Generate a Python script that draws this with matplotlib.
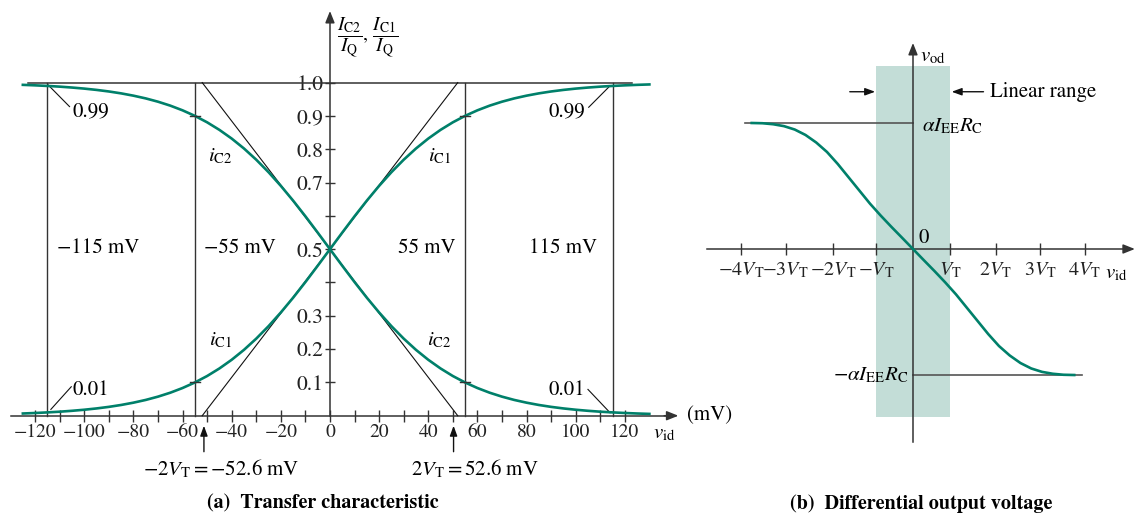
import numpy as np
import matplotlib
matplotlib.use("Agg")
import matplotlib.pyplot as plt
from matplotlib.ticker import FixedLocator, FixedFormatter

plt.rcParams['font.family'] = 'STIXGeneral'
plt.rcParams['mathtext.fontset'] = 'stix'

# ---------------- data ----------------
# (a) transfer characteristic: normalized collector currents vs v_id (mV)
v_id_mV = [-125, -120, -115, -110, -105, -100, -95, -90, -85, -80, -75, -70, -65, -60,
           -55, -50, -45, -40, -35, -30, -25, -20, -15, -10, -5, 0,
           5, 10, 15, 20, 25, 30, 35, 40, 45, 50, 55, 60, 65, 70, 75, 80,
           85, 90, 95, 100, 105, 110, 115, 120, 125, 130]
i_C1 = [0.0067, 0.0082, 0.0100, 0.0121, 0.0148, 0.0180, 0.0219, 0.0266, 0.0323, 0.0392,
        0.0474, 0.0573, 0.0691, 0.0832, 0.0998, 0.1192, 0.1419, 0.1680, 0.1978, 0.2315,
        0.2689, 0.3100, 0.3543, 0.4013, 0.4502, 0.5000,
        0.5498, 0.5987, 0.6457, 0.6900, 0.7311, 0.7685, 0.8022, 0.8320, 0.8581, 0.8808,
        0.9002, 0.9168, 0.9309, 0.9427, 0.9526, 0.9608, 0.9677, 0.9734, 0.9781, 0.9820,
        0.9852, 0.9879, 0.9900, 0.9918, 0.9933, 0.9945]
i_C2 = [0.9933, 0.9918, 0.9900, 0.9879, 0.9852, 0.9820, 0.9781, 0.9734, 0.9677, 0.9608,
        0.9526, 0.9427, 0.9309, 0.9168, 0.9002, 0.8808, 0.8581, 0.8320, 0.8022, 0.7685,
        0.7311, 0.6900, 0.6457, 0.5987, 0.5498, 0.5000,
        0.4502, 0.4013, 0.3543, 0.3100, 0.2689, 0.2315, 0.1978, 0.1680, 0.1419, 0.1192,
        0.0998, 0.0832, 0.0691, 0.0573, 0.0474, 0.0392, 0.0323, 0.0266, 0.0219, 0.0180,
        0.0148, 0.0121, 0.0100, 0.0082, 0.0067, 0.0055]
x_ticks_a = list(range(-120, 121, 10))
x_labels_a = ['−120', '', '−100', '', '−80', '', '−60', '', '−40', '', '−20', '', '0',
              '', '20', '', '40', '', '60', '', '80', '', '100', '', '120']
y_ticks_a = [0.1, 0.2, 0.3, 0.4, 0.5, 0.6, 0.7, 0.8, 0.9, 1.0]
y_labels_a = ['0.1', '0.2', '0.3', '', '0.5', '', '0.7', '0.8', '0.9', '1.0']
marker_lines_mV = [-115, -55, 55, 115]
marker_labels = ['−115 mV', '−55 mV', '55 mV', '115 mV']
two_VT = 52.0  # tangent-line intercepts (mV)

# (b) differential output voltage (v_id in units of V_T, v_od normalized)
v_id_VT = [-3.75, -3.5, -3.25, -3.0, -2.75, -2.5, -2.25, -2.0, -1.75, -1.5, -1.25, -1.0,
           -0.75, -0.5, -0.25, 0.0, 0.25, 0.5, 0.75, 1.0, 1.25, 1.5, 1.75, 2.0, 2.25,
           2.5, 2.75, 3.0, 3.25, 3.5, 3.75]
v_od = [1.0, 0.998, 0.99, 0.975, 0.948, 0.905, 0.845, 0.77, 0.675, 0.57, 0.465, 0.36,
        0.265, 0.175, 0.088, 0.0, -0.088, -0.175, -0.265, -0.36, -0.465, -0.57, -0.675,
        -0.77, -0.845, -0.905, -0.948, -0.975, -0.99, -0.998, -1.0]
x_ticks_b = [-4.0, -2.96, -1.85, -0.85, 0.87, 1.92, 2.96, 3.99]
x_labels_b = [r'$-4V_{\rm T}$', r'$-3V_{\rm T}$', r'$-2V_{\rm T}$', r'$-V_{\rm T}$',
              r'$V_{\rm T}$', r'$2V_{\rm T}$', r'$3V_{\rm T}$', r'$4V_{\rm T}$']
linear_range = (-0.86, 0.86)

# ---------------- style ----------------
GREEN = '#00806a'
BAND = '#c3ddd7'
AX = '#333333'
W, H = 1142, 513

fig = plt.figure(figsize=(W / 100, H / 100), dpi=100)

# ---------------- panel (a) ----------------
ax1 = fig.add_axes([0, 0, 700 / W, 1])
ax1.patch.set_visible(False)
ax1.set_xlim(-134.3, 150.6)
ax1.set_ylim(-0.292, 1.248)
for s in ('top', 'right'):
    ax1.spines[s].set_visible(False)
ax1.spines['left'].set_position(('data', 0))
ax1.spines['bottom'].set_position(('data', 0))
ax1.spines['left'].set_bounds(0, 1.20)
ax1.spines['bottom'].set_bounds(-130, 139)
for s in ('left', 'bottom'):
    ax1.spines[s].set_color(AX)
    ax1.spines[s].set_linewidth(1.1)
ax1.xaxis.set_major_locator(FixedLocator(x_ticks_a))
ax1.xaxis.set_major_formatter(FixedFormatter(x_labels_a))
ax1.yaxis.set_major_locator(FixedLocator(y_ticks_a))
ax1.yaxis.set_major_formatter(FixedFormatter(y_labels_a))
ax1.tick_params(axis='x', direction='inout', length=8.5, width=1.0, color=AX,
                labelsize=14, pad=1.5, labelcolor='#222')
ax1.tick_params(axis='y', direction='inout', length=7.5, width=1.0, color=AX,
                labelsize=15.5, pad=1.0, labelcolor='#222')
arrow_kw = dict(arrowstyle='-|>,head_length=0.7,head_width=0.28', color=AX, lw=1.1,
                shrinkA=0, shrinkB=0)
ax1.annotate('', xy=(141.8, 0), xytext=(136, 0), arrowprops=arrow_kw, annotation_clip=False)
ax1.annotate('', xy=(0, 1.215), xytext=(0, 1.19), arrowprops=arrow_kw, annotation_clip=False)

# reference lines
ax1.plot([-123, 123], [1.0, 1.0], color=AX, lw=1.1, zorder=2)
for xm in marker_lines_mV:
    ax1.plot([xm, xm], [0, 1.0], color=AX, lw=1.0, zorder=2)
ax1.plot([-two_VT, two_VT], [1.0, 0.0], color='#111', lw=0.8, zorder=3)
ax1.plot([-two_VT, two_VT], [0.0, 1.0], color='#111', lw=0.8, zorder=3)
for xm in (-55, 55):
    for yy in (0.1, 0.9):
        ax1.plot([xm - 2, xm + 2], [yy, yy], color=AX, lw=1.0, zorder=4)

ax1.plot(v_id_mV, i_C1, color=GREEN, lw=1.9, zorder=3)
ax1.plot(v_id_mV, i_C2, color=GREEN, lw=1.9, zorder=3)

# labels
ts = 15
ax1.text(-44.5, 0.777, r'$i_{\rm C2}$', fontsize=ts, ha='center', va='center')
ax1.text(44.5, 0.777, r'$i_{\rm C1}$', fontsize=ts, ha='center', va='center')
ax1.text(-44.5, 0.227, r'$i_{\rm C1}$', fontsize=ts, ha='center', va='center')
ax1.text(44.5, 0.227, r'$i_{\rm C2}$', fontsize=ts, ha='center', va='center')
for xc, lab in zip([-94.4, -36.6, 39.3, 94.8], marker_labels):
    ax1.text(xc, 0.503, lab, fontsize=ts, ha='center', va='center')
ax1.text(-104.6, 0.913, '0.99', fontsize=ts, ha='left', va='center')
ax1.text(103.8, 0.913, '0.99', fontsize=ts, ha='right', va='center')
ax1.text(-104.6, 0.077, '0.01', fontsize=ts, ha='left', va='center')
ax1.text(103.8, 0.077, '0.01', fontsize=ts, ha='right', va='center')
ax1.plot([-114.7, -106], [0.993, 0.928], color='#111', lw=0.8)
ax1.plot([113.4, 105.3], [0.986, 0.926], color='#111', lw=0.8)
ax1.plot([-113.6, -105.3], [0.019, 0.087], color='#111', lw=0.8)
ax1.plot([114.0, 105.0], [0.009, 0.079], color='#111', lw=0.8)

ax1.text(3.0, 1.136, r'$\dfrac{I_{\rm C2}}{I_{\rm Q}},\,\dfrac{I_{\rm C1}}{I_{\rm Q}}$',
         fontsize=14, ha='left', va='center')
ax1.text(145.2, 0.0, '(mV)', fontsize=ts, ha='left', va='center')
ax1.text(136.0, -0.053, r'$v_{\rm id}$', fontsize=ts, ha='center', va='center')

small_arrow = dict(arrowstyle='-|>,head_length=0.6,head_width=0.22', color='#111', lw=1.0,
                   shrinkA=0, shrinkB=0)
ax1.annotate('', xy=(-51.3, -0.030), xytext=(-51.3, -0.108), arrowprops=small_arrow)
ax1.annotate('', xy=(50.3, -0.030), xytext=(50.3, -0.108), arrowprops=small_arrow)
ax1.text(-44.1, -0.160, r'$-2V_{\rm T} = -52.6\ \mathrm{mV}$', fontsize=ts, ha='center', va='center')
ax1.text(58.9, -0.160, r'$2V_{\rm T} = 52.6\ \mathrm{mV}$', fontsize=ts, ha='center', va='center')

# ---------------- panel (b) ----------------
ax2 = fig.add_axes([700 / W, 0, 442 / W, 1])
ax2.patch.set_visible(False)
ax2.set_xlim(-4.953, 5.326)
ax2.set_ylim(-2.095, 1.976)
for s in ('top', 'right'):
    ax2.spines[s].set_visible(False)
ax2.spines['left'].set_position(('data', 0))
ax2.spines['bottom'].set_position(('data', 0))
ax2.spines['left'].set_bounds(-1.53, 1.60)
ax2.spines['bottom'].set_bounds(-4.8, 5.0)
for s in ('left', 'bottom'):
    ax2.spines[s].set_color(AX)
    ax2.spines[s].set_linewidth(1.1)
ax2.yaxis.set_major_locator(FixedLocator([]))
ax2.xaxis.set_major_locator(FixedLocator(x_ticks_b))
ax2.xaxis.set_major_formatter(FixedFormatter(x_labels_b))
ax2.tick_params(axis='x', direction='inout', length=8.5, width=1.0, color=AX,
                labelsize=14.5, pad=4.0, labelcolor='#222')
ax2.annotate('', xy=(5.16, 0), xytext=(4.95, 0), arrowprops=arrow_kw, annotation_clip=False)
ax2.annotate('', xy=(0, 1.635), xytext=(0, 1.57), arrowprops=arrow_kw, annotation_clip=False)

ax2.fill_between(list(linear_range), [-1.33, -1.33], [1.455, 1.455], color=BAND,
                 lw=0, zorder=0)
ax2.plot([-3.9, 0], [1.0, 1.0], color='#555', lw=1.2, zorder=2)
ax2.plot([0, 3.92], [-1.0, -1.0], color='#555', lw=1.2, zorder=2)
ax2.plot(v_id_VT, v_od, color=GREEN, lw=1.9, zorder=3)

ax2.text(0.16, 1.526, r'$v_{\rm od}$', fontsize=ts, ha='left', va='center')
ax2.text(0.2, 0.975, r'$\alpha I_{\rm EE}R_{\rm C}$', fontsize=ts, ha='left', va='center')
ax2.text(-0.11, -1.0, r'$-\alpha I_{\rm EE}R_{\rm C}$', fontsize=ts, ha='right', va='center')
ax2.text(0.244, 0.087, '0', fontsize=ts, ha='center', va='center')
ax2.text(4.72, -0.19, r'$v_{\rm id}$', fontsize=ts, ha='center', va='center')
ax2.text(1.79, 1.248, 'Linear range', fontsize=ts, ha='left', va='center')
ax2.annotate('', xy=(0.9, 1.248), xytext=(1.64, 1.248), arrowprops=small_arrow)
ax2.annotate('', xy=(-0.88, 1.248), xytext=(-1.47, 1.248), arrowprops=small_arrow)

# ---------------- captions ----------------
fig.text(323.3 / W, 1 - 503.3 / H, '(a)  Transfer characteristic', fontsize=14.5,
         weight='bold', ha='center', va='center')
fig.text(920.8 / W, 1 - 503.3 / H, '(b)  Differential output voltage', fontsize=14.5,
         weight='bold', ha='center', va='center')

fig.savefig('out.png', dpi=100)
